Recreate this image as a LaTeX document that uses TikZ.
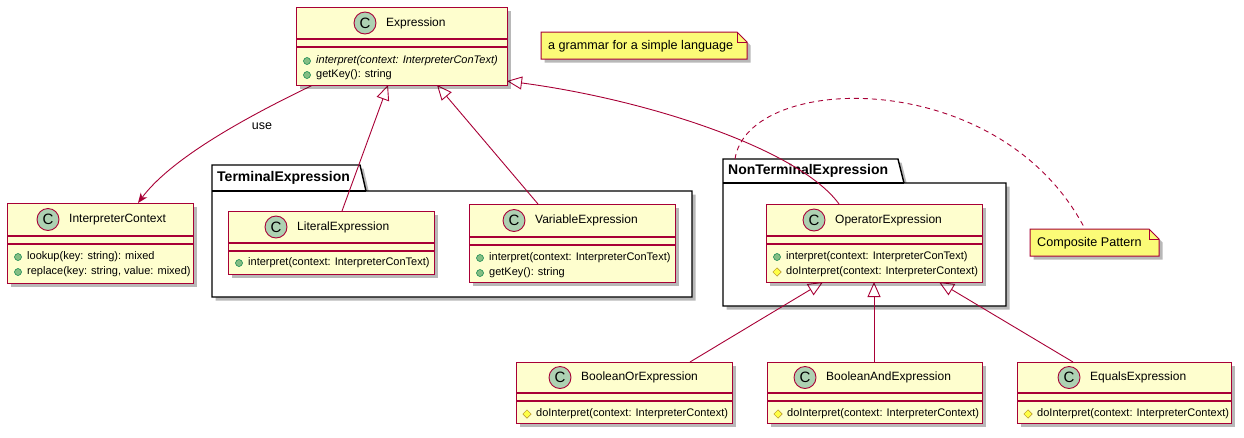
\documentclass[tikz,border=0pt]{standalone}
\usepackage{fontspec}
\setmainfont{Liberation Sans}
\usetikzlibrary{arrows.meta,shapes.geometric,shadows}
\definecolor{umlred}{HTML}{A80036}
\definecolor{clsfill}{HTML}{FEFECE}
\definecolor{cgreen}{HTML}{ADD1B2}
\definecolor{notefill}{HTML}{FBFB77}
\definecolor{pubfill}{HTML}{84BE84}
\definecolor{pubdraw}{HTML}{038048}
\definecolor{protfill}{HTML}{FFFF44}
\definecolor{protdraw}{HTML}{B38D22}
\tikzset{
  shad/.style={drop shadow={shadow xshift=3.5pt, shadow yshift=-3.5pt, opacity=0.28, fill=black}},
  cls/.style={rectangle, draw=umlred, fill=clsfill, line width=1.3pt, inner sep=0pt, shad},
  clsline/.style={draw=umlred, line width=1.1pt},
  cicon/.style={circle, draw=umlred, fill=cgreen, line width=0.9pt, minimum size=22pt, inner sep=0pt,
    font=\fontsize{15}{15}\selectfont},
  ctitle/.style={anchor=west, inner sep=0pt, text height=9pt, text depth=2.5pt, font=\fontsize{12}{14}\selectfont},
  memtxt/.style={anchor=west, inner sep=0pt, text height=8pt, text depth=2.5pt, font=\fontsize{11}{13}\selectfont},
  pubicon/.style={circle, fill=pubfill, draw=pubdraw, line width=0.5pt, minimum size=7pt, inner sep=0pt},
  proticon/.style={diamond, fill=protfill, draw=protdraw, line width=0.5pt, minimum size=8.5pt, inner sep=0pt},
  pkg/.style={draw=black, fill=white, line width=1.4pt, shad},
  pkgtitle/.style={anchor=west, inner sep=0pt, font=\fontsize{14}{16}\selectfont\bfseries},
  notebox/.style={draw=umlred, fill=notefill, line width=1pt, shad},
  notetxt/.style={anchor=west, inner sep=0pt, text height=9.5pt, text depth=2.8pt, font=\fontsize{12.6}{15}\selectfont},
  gen/.style={draw=umlred, line width=0.9pt, -{Triangle[open, length=15pt, width=13pt, fill=white]}},
  usearr/.style={draw=umlred, line width=0.9pt, -{Stealth[length=10pt, width=8pt, inset=3pt]}},
  notelink/.style={draw=umlred, line width=0.9pt, dash pattern=on 5pt off 4pt},
}
\newcommand\uclass[8]{%
  \node[cls, anchor=north west, minimum width={(#4-#2)*1pt}, minimum height={(#5-#3)*1pt}] (#1) at (#2,#3) {};
  \draw[clsline] (#2,#6) -- (#4,#6) (#2,#6+8) -- (#4,#6+8);
  \node[cicon] (#1-c) at (#8,{(#3+#6)/2}) {C};
  \node[ctitle] (#1-t) at (#8+21,{(#3+#6)/2}) {#7};
}
\newcommand\umem[5]{%
  \node[#2] (#1-i) at (#3+11,#4) {};
  \node[memtxt] (#1) at (#3+20,#4) {#5};
}
\begin{document}
\begin{tikzpicture}[x=1pt,y=-1pt]
\useasboundingbox (0,0) rectangle (1244,437);

% ---------- packages ----------
\path[pkg] (212,191) -- (212,165) -- (360,165) -- (366,191) -- (692,191) -- (692,297) -- (212,297) -- cycle;
\draw[black, line width=1.4pt] (212,191) -- (366,191);
\node[pkgtitle] (tpkg) at (217,178) {TerminalExpression};

\path[pkg] (723,183) -- (723,159) -- (898,159) -- (904,183) -- (1006,183) -- (1006,306) -- (723,306) -- cycle;
\draw[black, line width=1.4pt] (723,183) -- (904,183);
\node[pkgtitle] (ntpkg) at (728,171) {NonTerminalExpression};

% ---------- notes ----------
\path[notebox] (541,32) -- (737,32) -- (747,42) -- (747,59) -- (541,59) -- cycle;
\draw[umlred, line width=1pt] (737,32) -- (737,42) -- (747,42);
\node[notetxt] (note1) at (548,46) {a grammar for a simple language};

\path[notebox] (1030,229) -- (1149,229) -- (1159,239) -- (1159,256) -- (1030,256) -- cycle;
\draw[umlred, line width=1pt] (1149,229) -- (1149,239) -- (1159,239);
\node[notetxt] (note2) at (1037,243) {Composite Pattern};

% ---------- connector end points ----------
\coordinate (eLit) at (388,85);
\coordinate (eVar) at (437,85);
\coordinate (eOp) at (507,81);
\coordinate (eUse) at (313,85);
\coordinate (icTop) at (138,203);
\coordinate (litTop) at (342,211);
\coordinate (varTop) at (538,204);
\coordinate (opTop) at (839,204);
\coordinate (opOr) at (823,282);
\coordinate (opAnd) at (874,282);
\coordinate (opEq) at (939,282);
\coordinate (orTop) at (690,362);
\coordinate (andTop) at (874,362);
\coordinate (eqTop) at (1073,362);
\coordinate (ntTab) at (735,159);
\coordinate (n2Top) at (1085,229);

% ---------- connectors ----------
\draw[usearr] (eUse) .. controls (240,120) and (170,160) .. (icTop);
\node[font=\fontsize{12.5}{14}\selectfont, inner sep=0pt] (uselbl) at (262,126) {use};
\draw[gen] (litTop) -- (eLit);
\draw[gen] (varTop) -- (eVar);
\draw[gen] (opTop) .. controls (800,150) and (650,100) .. (eOp);
\draw[gen] (orTop) -- (opOr);
\draw[gen] (andTop) -- (opAnd);
\draw[gen] (eqTop) -- (opEq);
\draw[notelink] (ntTab) .. controls (748,72) and (1000,65) .. (n2Top);

% ---------- classes ----------
\uclass{expr}{296}{7}{507}{85}{39}{Expression}{365}
\umem{expr-m1}{pubicon}{296}{61}{\itshape interpret(context: InterpreterConText)}
\umem{expr-m2}{pubicon}{296}{75}{getKey(): string}

\uclass{ic}{7}{203}{193}{283}{236}{InterpreterContext}{48}
\umem{ic-m1}{pubicon}{7}{257}{lookup(key: string): mixed}
\umem{ic-m2}{pubicon}{7}{272}{replace(key: string, value: mixed)}

\uclass{lit}{228}{211}{434}{274}{243}{LiteralExpression}{276}
\umem{lit-m1}{pubicon}{228}{263}{interpret(context: InterpreterConText)}

\uclass{var}{469}{204}{675}{282}{237}{VariableExpression}{514}
\umem{var-m1}{pubicon}{469}{258}{interpret(context: InterpreterConText)}
\umem{var-m2}{pubicon}{469}{273}{getKey(): string}

\uclass{op}{766}{204}{982}{282}{236}{OperatorExpression}{814}
\umem{op-m1}{pubicon}{766}{257}{interpret(context: InterpreterConText)}
\umem{op-m2}{proticon}{766}{272}{doInterpret(context: InterpreterContext)}

\uclass{bor}{516}{362}{732}{423}{393}{BooleanOrExpression}{560}
\umem{bor-m1}{proticon}{516}{414}{doInterpret(context: InterpreterContext)}

\uclass{band}{767}{362}{982}{423}{393}{BooleanAndExpression}{805}
\umem{band-m1}{proticon}{767}{414}{doInterpret(context: InterpreterContext)}

\uclass{eq}{1017}{362}{1231}{423}{393}{EqualsExpression}{1069}
\umem{eq-m1}{proticon}{1017}{414}{doInterpret(context: InterpreterContext)}
\end{tikzpicture}
\end{document}
